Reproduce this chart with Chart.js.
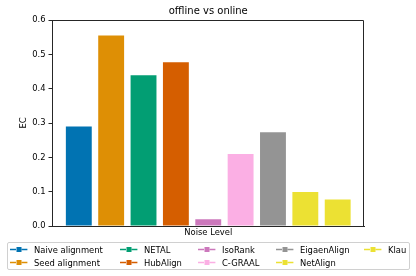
<!DOCTYPE html>
<html>
<head>
<meta charset="utf-8">
<script src="https://cdn.jsdelivr.net/npm/chart.js@4.4.1/dist/chart.umd.min.js"></script>
<style>
  html, body { margin: 0; padding: 0; background: #fff; }
  .wrap { position: relative; width: 416px; height: 276px; font-family: 'DejaVu Sans', sans-serif; }
  #chart { position: absolute; left: 0; top: 0; }
  .legend {
    position: absolute; left: 7px; top: 242px; width: 401px; height: 26px;
    border: 1px solid #d0d0d0; border-radius: 2px;
    display: grid; grid-template-rows: 13px 13px; grid-auto-flow: column;
    grid-template-columns: 110px 78px 78px 88px 47px;
    font-size: 8.4px; color: #000; box-sizing: content-box;
  }
  .item { display: flex; align-items: center; white-space: nowrap; padding-left: 2px; }
  .item svg { margin-right: 6px; flex: none; }
</style>
</head>
<body>
<div class="wrap">
  <canvas id="chart" width="416" height="276"></canvas>
  <div class="legend"></div>
</div>
<script>
const chartTitle = 'offline vs online'
const methods = ['Naive alignment', 'Seed alignment', 'NETAL', 'HubAlign', 'IsoRank', 'C-GRAAL', 'EigaenAlign', 'NetAlign', 'Klau']
const ecValues = [0.29, 0.555, 0.439, 0.477, 0.02, 0.21, 0.273, 0.099, 0.077]
const colours = ['#0173B2', '#DE8F05', '#029E73', '#D55E00', '#CC78BC', '#FBAFE4', '#949494', '#ECE133', '#ECE133']
const yTicks = [0, 0.1, 0.2, 0.3, 0.4, 0.5, 0.6]

const axisColour = '#262626'

// top/right spines plus a title centred on the axes, like matplotlib does
const framePlugin = {
  id: 'frame',
  afterDraw (chart) {
    const { ctx, chartArea } = chart
    ctx.save()
    ctx.strokeStyle = axisColour
    ctx.lineWidth = 1
    ctx.beginPath()
    ctx.moveTo(chartArea.left, chartArea.top + 0.5)
    ctx.lineTo(chartArea.right - 0.5, chartArea.top + 0.5)
    ctx.lineTo(chartArea.right - 0.5, chartArea.bottom)
    ctx.stroke()
    ctx.fillStyle = '#000'
    ctx.font = '10px "DejaVu Sans"'
    ctx.textAlign = 'center'
    ctx.textBaseline = 'middle'
    ctx.fillText(chartTitle, (chartArea.left + chartArea.right) / 2, chartArea.top - 9)
    ctx.restore()
  }
}

const chart = new Chart(document.getElementById('chart'), {
  type: 'bar',
  data: {
    labels: [''],
    datasets: methods.map((m, i) => ({
      label: m,
      data: [ecValues[i]],
      backgroundColor: colours[i],
      borderWidth: 0
    }))
  },
  options: {
    responsive: false,
    animation: false,
    layout: { padding: { top: 20, right: 52, left: 19, bottom: 38 } },
    datasets: { bar: { categoryPercentage: 0.935, barPercentage: 0.8 } },
    scales: {
      x: {
        grid: { display: false },
        border: { display: true, color: axisColour, width: 1 },
        ticks: { display: false },
        title: { display: true, text: 'Noise Level', color: '#000', font: { family: 'DejaVu Sans', size: 8.4 }, padding: { top: 1, bottom: 0 } },
        afterFit: (scale) => { scale.height = 12 }
      },
      y: {
        min: 0,
        max: 0.6,
        afterBuildTicks: (scale) => { scale.ticks = yTicks.map(v => ({ value: v })) },
        ticks: {
          color: '#000',
          font: { family: 'DejaVu Sans', size: 8.4 },
          padding: 3,
          callback: (v) => Number(v).toFixed(1)
        },
        grid: { display: true, drawOnChartArea: false, drawTicks: true, tickLength: 4, color: axisColour },
        border: { display: true, color: axisColour, width: 1 },
        title: { display: true, text: 'EC', color: '#000', font: { family: 'DejaVu Sans', size: 8.4 }, padding: { top: 0, bottom: 0 } },
        afterFit: (scale) => { scale.width = 33.5 }
      }
    },
    plugins: {
      legend: { display: false },
      tooltip: { enabled: false },
      title: { display: false }
    }
  },
  plugins: [framePlugin]
})

const legendEl = document.querySelector('.legend')
legendEl.innerHTML = methods.map((m, i) => `
  <div class="item">
    <svg width="18" height="7" viewBox="0 0 18 7">
      <line x1="0" y1="3.5" x2="18" y2="3.5" stroke="${colours[i]}" stroke-width="1.4" stroke-dasharray="6,2,1.4,2"/>
      <rect x="6.5" y="1" width="5" height="5" fill="${colours[i]}"/>
    </svg>${m}
  </div>`).join('')
</script>
</body>
</html>
